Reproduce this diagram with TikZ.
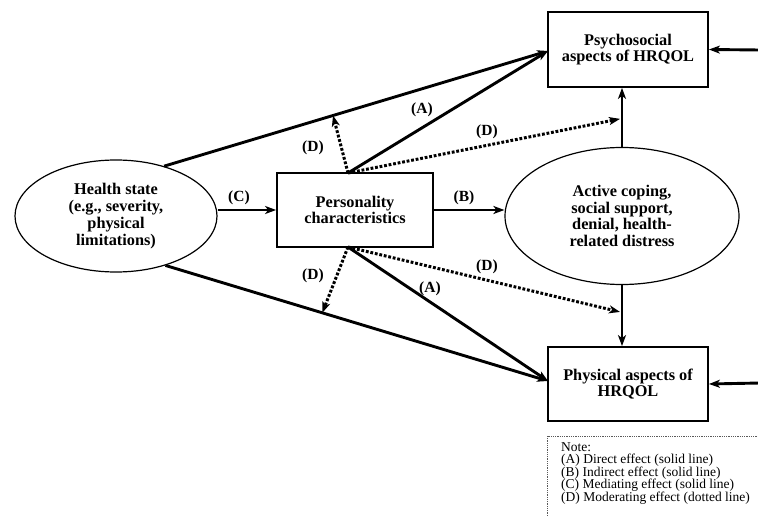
\documentclass[tikz,border=0pt]{standalone}
\usepackage{fontspec}
\setmainfont{Liberation Serif}
\usetikzlibrary{shapes.geometric,arrows.meta,calc}
\begin{document}
\begin{tikzpicture}[x=1pt,y=-1pt,
  txt/.style={font=\fontsize{16.3}{16.8}\selectfont\bfseries, align=center},
  box/.style={txt, draw, line width=1.8pt, inner sep=0pt},
  oval/.style={txt, draw, ellipse, line width=1.2pt, inner sep=0pt},
  conn/.style={line width=2.9pt, -{Stealth[length=11pt,width=8pt,inset=3pt]}},
  dots/.style={line width=3pt, dash pattern=on 2.8pt off 1.8pt, -{Stealth[length=11pt,width=8pt,inset=3pt]}},
  lab/.style={font=\fontsize{15.5}{15.5}\selectfont\bfseries, inner sep=1pt}]
\useasboundingbox (0,0) rectangle (758,516);
\clip (0,0) rectangle (758,516);

% nodes
\node[oval, minimum width=202pt, minimum height=112pt] (hs) at (116,216)
  {Health state\\(e.g., severity,\\physical\\limitations)};
\node[box, minimum width=156pt, minimum height=74pt] (pc) at (355,210)
  {Personality\\characteristics};
\node[oval, minimum width=234pt, minimum height=137pt] (ac) at (622,216)
  {Active coping,\\social support,\\denial, health-\\related distress};
\node[box, minimum width=160pt, minimum height=75pt] (psy) at (628,49.5)
  {Psychosocial\\aspects of HRQOL};
\node[box, minimum width=160pt, minimum height=74pt] (phy) at (628,384)
  {Physical aspects of\\HRQOL};

% helper coordinates
\coordinate (pt) at (348,173);
\coordinate (pb) at (348,247);
\coordinate (psyin) at (548,51);
\coordinate (phyin) at (548,381);
\coordinate (vtop) at (ac.north |- psy.south);
\coordinate (vbot) at (ac.south |- phy.north);
\coordinate (r1) at (760,50);
\coordinate (r2) at (760,383);

% health state direct paths
\draw[conn] (hs.46) -- (psyin) coordinate[pos=0.44] (dU);
\draw[conn] (hs.-45) -- (phyin) coordinate[pos=0.41] (dL);

% (C) and (B)
\draw[conn] (hs.east |- 0,210) -- (pc.west |- 0,210);
\draw[conn] (pc.east |- 0,210) -- (ac.west |- 0,210);

% (A) personality direct
\draw[conn] (pt) -- (psyin);
\draw[conn] (pb) -- (phyin);

% vertical arrows
\draw[conn] (ac.north) -- (vtop) coordinate[pos=0.475] (vR1);
\draw[conn] (ac.south) -- (vbot) coordinate[pos=0.44] (vR2);

% moderating effects
\draw[dots] (pt) -- (dU);
\draw[dots] (pb) -- (dL);
\draw[dots] (pt) -- ($(vR1)+(-2,0)$);
\draw[dots] (pb) -- ($(vR2)+(-2,0)$);

% right incoming arrows
\draw[conn] (r1) -- (psy.east);
\draw[conn] (r2) -- (phy.east);

% labels
\node[lab] (lC) at (239,198) {(C)};
\node[lab] (lB) at (464,198) {(B)};
\node[lab] (lA1) at (422,110) {(A)};
\node[lab] (lA2) at (430,289) {(A)};
\node[lab] (lD1) at (313,148) {(D)};
\node[lab] (lD2) at (487,132) {(D)};
\node[lab] (lD3) at (313,276) {(D)};
\node[lab] (lD4) at (487,267) {(D)};

% note
\draw[gray!70!black, line width=0.9pt, dash pattern=on 0.9pt off 0.9pt] (547,436) rectangle (775,530);
\node[anchor=north west, align=left, inner sep=0pt,
  font=\fontsize{13.5}{12.6}\selectfont] (note) at (561,442)
  {Note:\\(A) Direct effect (solid line)\\(B) Indirect effect (solid line)\\(C) Mediating effect (solid line)\\(D) Moderating effect (dotted line)};
\end{tikzpicture}
\end{document}
